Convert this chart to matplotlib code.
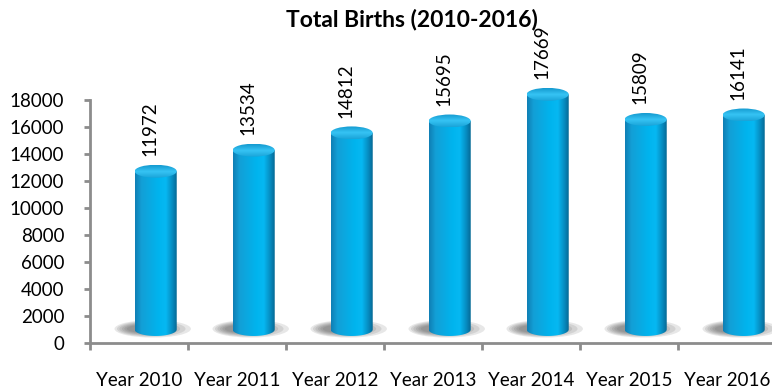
import numpy as np
import matplotlib
matplotlib.use('Agg')
import matplotlib.pyplot as plt
from matplotlib.patches import Ellipse, PathPatch
from matplotlib.path import Path
from matplotlib.colors import LinearSegmentedColormap

years = ['Year 2010', 'Year 2011', 'Year 2012', 'Year 2013', 'Year 2014', 'Year 2015', 'Year 2016']
births = [11972, 13534, 14812, 15695, 17669, 15809, 16141]
yticks = [0, 2000, 4000, 6000, 8000, 10000, 12000, 14000, 16000, 18000]

plt.rcParams['font.family'] = ['Lato', 'DejaVu Sans']

# cylinder shading, left -> right
body_cmap = LinearSegmentedColormap.from_list('body', [
	(0.0, '#0f7fb4'), (0.15, '#139fd6'), (0.55, '#00b4ee'),
	(0.72, '#06b8f2'), (0.88, '#0789bd'), (1.0, '#05618a')])
top_cmap = LinearSegmentedColormap.from_list('top', [
	(0.0, '#1499cf'), (0.5, '#36c4f4'), (1.0, '#1aa3d8')])

fig = plt.figure(figsize=(7.72, 3.91), dpi=100)
ax = fig.add_axes([90 / 772, 48 / 391, 686 / 772, 243 / 391])

n = len(years)
ax.set_xlim(-0.5, n - 0.5)
ax.set_ylim(0, 18000)

shift = 0.17     # 3d depth offset
bw = 0.43        # cylinder width
eh = 960         # ellipse height in data units
base = 1000
lift = 750

for i, v in enumerate(births):
	xc = i + shift
	x0 = xc - bw / 2
	x1 = xc + bw / 2
	top = v + lift

	# shadow
	for k in range(6):
		w = 0.78 - k * 0.08
		h = 1300 - k * 140
		ax.add_patch(Ellipse((xc - 0.03 - k * 0.015, base + 50), w, h,
			facecolor='#404040', edgecolor='none', alpha=0.12, zorder=1, clip_on=False))

	# body with rounded bottom
	t = np.linspace(np.pi, 2 * np.pi, 40)
	arc = np.column_stack([xc + bw / 2 * np.cos(t), base + eh / 2 * np.sin(t)])
	verts = np.vstack([[[x0, top]], arc, [[x1, top], [x0, top]]])
	clip = PathPatch(Path(verts), facecolor='none', edgecolor='none', transform=ax.transData,
		clip_on=False)
	ax.add_patch(clip)
	grad = np.linspace(0, 1, 200).reshape(1, -1)
	im = ax.imshow(grad, cmap=body_cmap, aspect='auto', extent=[x0, x1, base - eh / 2, top],
		zorder=2, interpolation='bilinear')
	im.set_clip_path(clip)
	im.set_clip_box(fig.bbox)

	# top cap
	cap = Ellipse((xc, top), bw, eh, facecolor='none', edgecolor='none', zorder=3, clip_on=False)
	ax.add_patch(cap)
	vg = np.linspace(0, 1, 100).reshape(-1, 1)
	im2 = ax.imshow(vg, cmap=top_cmap, aspect='auto',
		extent=[x0, x1, top - eh / 2, top + eh / 2], zorder=3, interpolation='bilinear')
	im2.set_clip_path(cap)
	im2.set_clip_box(fig.bbox)

	ax.text(xc - 0.06, top + eh / 2 + 650, str(v), rotation=90, ha='center', va='bottom',
		fontsize=13.5, color='black', clip_on=False)

ax.set_xlim(-0.5, n - 0.5)
ax.set_ylim(0, 18000)

for sp in ['top', 'right']:
	ax.spines[sp].set_visible(False)
for sp in ['left', 'bottom']:
	ax.spines[sp].set_color('#8c8c8c')
	ax.spines[sp].set_linewidth(2)

ax.set_yticks(yticks)
ax.set_yticklabels([str(y) for y in yticks], fontsize=13.5)
ax.set_xticks(range(n))
ax.set_xticklabels(years, fontsize=13.5)
ax.set_xticks(np.arange(n + 1) - 0.5, minor=True)
ax.tick_params(axis='x', which='major', length=0, pad=21)
ax.tick_params(axis='x', which='minor', length=5, width=2, color='#8c8c8c')
ax.tick_params(axis='y', length=4.5, width=2, color='#8c8c8c', pad=14)

fig.text(412 / 772, 1 - 20 / 391, 'Total Births (2010-2016)', ha='center', va='center',
	fontsize=16.5, fontweight='bold')

fig.savefig('out.png', dpi=100)
